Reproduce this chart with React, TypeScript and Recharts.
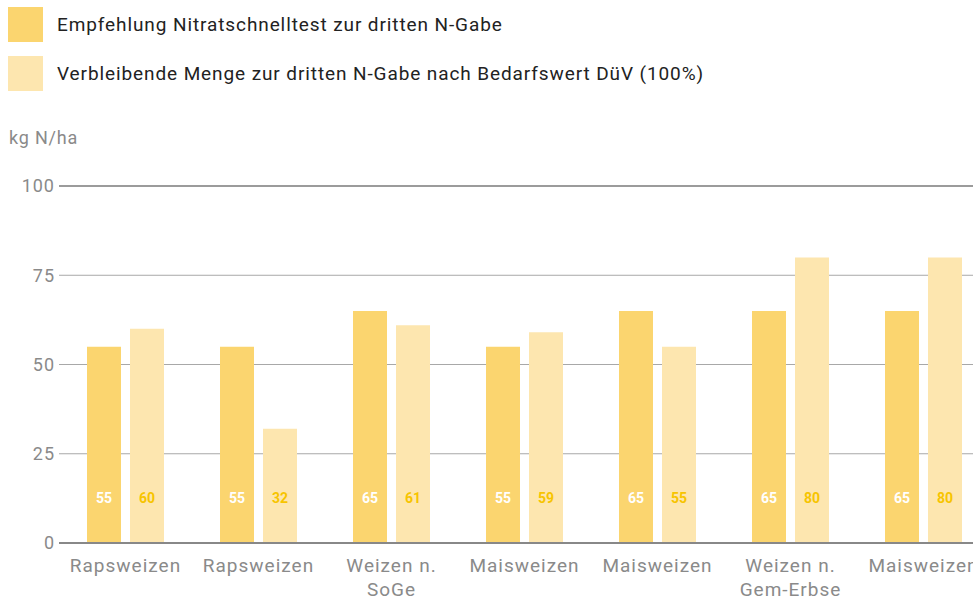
import { BarChart, Bar, XAxis, YAxis, CartesianGrid, LabelList, ReferenceLine } from "recharts";

// ── Data ──────────────────────────────────────────────────────────────────────

const categories = [
  "Rapsweizen",
  "Rapsweizen",
  "Weizen n.\nSoGe",
  "Maisweizen",
  "Maisweizen",
  "Weizen n.\nGem-Erbse",
  "Maisweizen",
];
const empfehlung = [55, 55, 65, 55, 65, 65, 65];
const verbleibend = [60, 32, 61, 59, 55, 80, 80];
const yTicks = [0, 25, 50, 75, 100];

const legendLabels = [
  "Empfehlung Nitratschnelltest zur dritten N-Gabe",
  "Verbleibende Menge zur dritten N-Gabe nach Bedarfswert DüV (100%)",
];

const DARK = "#fbd56f";
const LIGHT = "#fde6af";
const FONT = "Roboto, sans-serif";

const data = categories.map((name, i) => ({
  name,
  empfehlung: empfehlung[i],
  verbleibend: verbleibend[i],
}));

// ── Ticks & labels ────────────────────────────────────────────────────────────

function CategoryTick({ x, y, payload }: any) {
  const lines = String(payload.value).split("\n");
  return (
    <text
      x={x}
      y={y}
      textAnchor="middle"
      fill="#8a8a8a"
      fontSize={19}
      letterSpacing={1}
      fontFamily={FONT}
    >
      {lines.map((l, i) => (
        <tspan key={i} x={x} dy={i === 0 ? 21 : 24}>
          {l}
        </tspan>
      ))}
    </text>
  );
}

function barLabel(color: string) {
  return (props: any) => {
    const { x, y, width, height, value } = props;
    return (
      <text
        x={x + width / 2}
        y={y + height - 45}
        textAnchor="middle"
        dominantBaseline="central"
        fill={color}
        fontSize={14}
        fontWeight={700}
        fontFamily={FONT}
      >
        {value}
      </text>
    );
  };
}

// ── Main ──────────────────────────────────────────────────────────────────────

export default function App() {
  return (
    <div
      style={{
        position: "absolute",
        left: 0,
        top: 0,
        width: 973,
        height: 600,
        overflow: "hidden",
        background: "#fff",
        fontFamily: FONT,
      }}
    >
      {/* legend */}
      {legendLabels.map((label, i) => (
        <div
          key={label}
          style={{
            position: "absolute",
            left: 8,
            top: 7 + i * 49,
            display: "flex",
            alignItems: "center",
            whiteSpace: "nowrap",
          }}
        >
          <div style={{ width: 35, height: 35, background: i === 0 ? DARK : LIGHT }} />
          <span style={{ marginLeft: 14, fontSize: 19, letterSpacing: 0.9, color: "#222" }}>
            {label}
          </span>
        </div>
      ))}
      <div
        style={{
          position: "absolute",
          left: 9,
          top: 127,
          fontSize: 18,
          letterSpacing: 0.8,
          color: "#8a8a8a",
        }}
      >
        kg N/ha
      </div>

      <BarChart
        width={990}
        height={600}
        data={data}
        margin={{ top: 186, right: 0, left: 0, bottom: 0 }}
        barGap={9}
        barSize={34}
      >
        <CartesianGrid vertical={false} stroke="#a8a8a8" />
        <ReferenceLine y={100} stroke="#888" strokeWidth={1.5} />
        <XAxis
          dataKey="name"
          interval={0}
          height={57}
          tickLine={false}
          axisLine={{ stroke: "#888", strokeWidth: 2 }}
          tick={<CategoryTick />}
        />
        <YAxis
          width={59}
          domain={[0, 100]}
          ticks={yTicks}
          axisLine={false}
          tickLine={false}
          tickSize={0}
          tickMargin={4}
          tick={{ fontSize: 18, fill: "#8a8a8a", fontFamily: FONT, letterSpacing: 1 }}
        />
        <Bar dataKey="empfehlung" fill={DARK} isAnimationActive={false}>
          <LabelList dataKey="empfehlung" content={barLabel("#ffffff")} />
        </Bar>
        <Bar dataKey="verbleibend" fill={LIGHT} isAnimationActive={false}>
          <LabelList dataKey="verbleibend" content={barLabel("#f7c400")} />
        </Bar>
      </BarChart>
    </div>
  );
}
